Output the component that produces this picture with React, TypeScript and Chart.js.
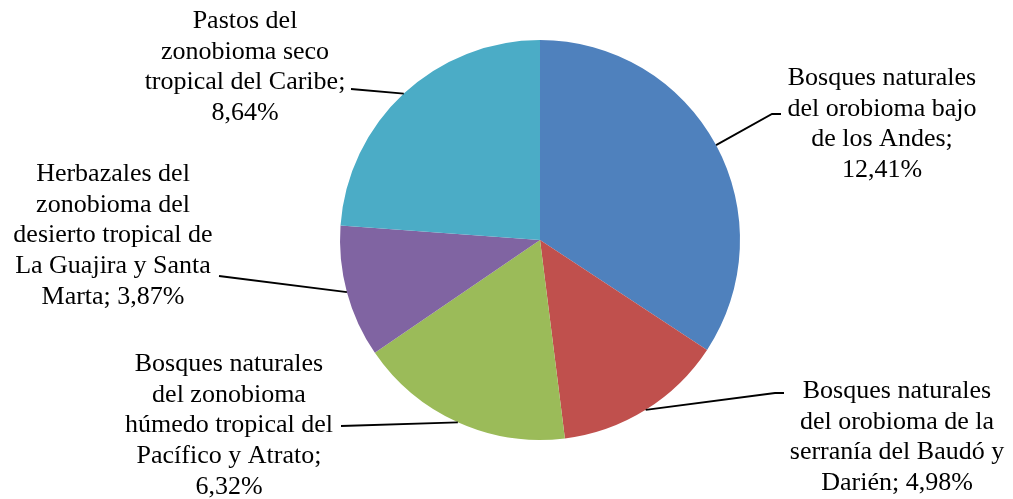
import React, { useEffect, useRef } from "react";
import { Chart, registerables } from "chart.js";

Chart.register(...registerables);

const categories = [
  ["Bosques naturales", "del orobioma bajo", "de los Andes;", "12,41%"],
  ["Bosques naturales", "del orobioma de la", "serranía del Baudó y", "Darién; 4,98%"],
  ["Bosques naturales", "del zonobioma", "húmedo tropical del", "Pacífico y Atrato;", "6,32%"],
  ["Herbazales del", "zonobioma del", "desierto tropical de", "La Guajira y Santa", "Marta; 3,87%"],
  ["Pastos del", "zonobioma seco", "tropical del Caribe;", "8,64%"],
];
const values = [12.41, 4.98, 6.32, 3.87, 8.64];
const colors = ["#4F81BD", "#C0504D", "#9BBB59", "#8064A2", "#4BACC6"];

// label layout: text block center x, first line y, leader elbow points
const labelLayout = [
  { cx: 882, y0: 78, pts: [[772, 114], [781, 114]] },
  { cx: 897, y0: 391, pts: [[775, 393], [784, 393]] },
  { cx: 229, y0: 364, pts: [[341, 426]] },
  { cx: 113, y0: 174, pts: [[219, 276]] },
  { cx: 245, y0: 21, pts: [[351, 89]] },
];
const LINE_H = 30.8;

const labelPlugin = {
  id: "pieLabels",
  afterDraw(chart: any) {
    const ctx = chart.ctx;
    const meta = chart.getDatasetMeta(0);
    ctx.save();
    meta.data.forEach((arc: any, i: number) => {
      const { x, y, startAngle, endAngle, outerRadius } = arc.getProps(
        ["x", "y", "startAngle", "endAngle", "outerRadius"],
        true
      );
      const mid = (startAngle + endAngle) / 2;
      const sx = x + Math.cos(mid) * outerRadius;
      const sy = y + Math.sin(mid) * outerRadius;
      const lay = labelLayout[i];
      ctx.beginPath();
      ctx.strokeStyle = "#000";
      ctx.lineWidth = 1.8;
      ctx.moveTo(sx, sy);
      lay.pts.forEach((p) => ctx.lineTo(p[0], p[1]));
      ctx.stroke();
      ctx.fillStyle = "#000";
      ctx.font = '26px "Liberation Serif", "Times New Roman", serif';
      ctx.textAlign = "center";
      ctx.textBaseline = "middle";
      categories[i].forEach((line, k) => {
        ctx.fillText(line, lay.cx, lay.y0 + k * LINE_H);
      });
    });
    ctx.restore();
  },
};

export default function App() {
  const ref = useRef<HTMLCanvasElement>(null);
  useEffect(() => {
    const chart = new Chart(ref.current!, {
      type: "pie",
      data: {
        labels: categories.map((c) => c.join(" ")),
        datasets: [
          {
            data: values,
            backgroundColor: colors,
            borderWidth: 0,
          },
        ],
      },
      options: {
        responsive: false,
        animation: false,
        layout: { padding: { left: 340, right: 273, top: 40, bottom: 59 } },
        plugins: { legend: { display: false }, tooltip: { enabled: false } },
      },
      plugins: [labelPlugin],
    });
    return () => chart.destroy();
  }, []);
  return (
    <div style={{ position: "fixed", left: 0, top: 0, width: 1013, height: 499, background: "#fff" }}>
      <canvas ref={ref} width={1013} height={499} />
    </div>
  );
}
